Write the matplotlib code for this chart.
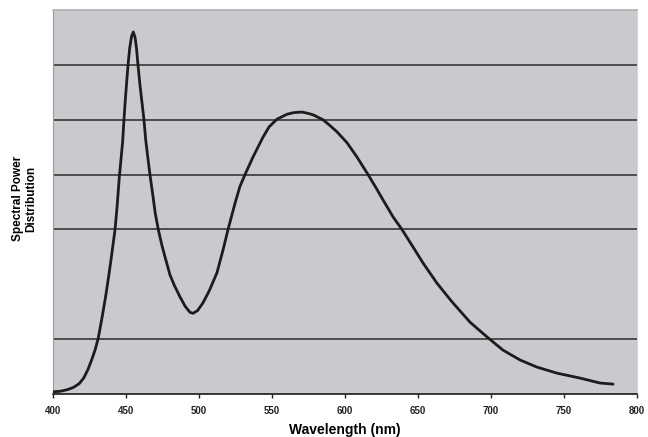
import matplotlib
matplotlib.use("Agg")
import matplotlib.pyplot as plt

# spectrum (wavelength in nm, relative power)
wavelength = [400, 405, 410, 414, 418, 421, 424, 427, 429, 431, 433.5, 436, 438,
              440, 442.5, 444, 445.4, 447.7, 448.6, 449.5, 450.5, 451.4, 452.5,
              453.8, 455, 456.2, 457.2, 458.2, 459.5, 461, 462.3, 463.5, 465,
              466.4, 468.5, 470, 472.1, 474.5, 476.7, 478.5, 480, 483.1, 487,
              490.5, 493.8, 495.9, 499, 502.7, 507, 512.3, 516.4, 519.9, 524.7,
              528, 531.5, 537, 543.8, 548, 553.4, 560.3, 565, 570.5, 574, 578.1,
              584.9, 589, 594.5, 601.4, 608.2, 615.8, 621, 626, 632.9, 639, 646.6,
              653.4, 663, 673.3, 685.6, 697.3, 708.2, 719.9, 731.5, 745.2, 761,
              774.7, 783.6]
power = [0.04, 0.05, 0.08, 0.12, 0.19, 0.29, 0.45, 0.66, 0.82, 1.02, 1.38, 1.77, 2.12,
         2.5, 3.0, 3.45, 3.95, 4.6, 5.0, 5.35, 5.7, 6.0, 6.3,
         6.52, 6.6, 6.5, 6.3, 6.0, 5.65, 5.3, 5.0, 4.63, 4.3,
         4.0, 3.6, 3.3, 3.0, 2.72, 2.5, 2.33, 2.18, 1.98, 1.77,
         1.6, 1.49, 1.47, 1.52, 1.66, 1.88, 2.21, 2.62, 3.0, 3.48,
         3.78, 4.0, 4.32, 4.68, 4.87, 5.01, 5.10, 5.13, 5.14, 5.12, 5.09,
         5.0, 4.91, 4.78, 4.58, 4.32, 4.0, 3.77, 3.54, 3.23, 3.0, 2.68,
         2.39, 2.02, 1.68, 1.31, 1.04, 0.80, 0.62, 0.49, 0.38, 0.29,
         0.20, 0.18]

x_ticks = [400, 450, 500, 550, 600, 650, 700, 750, 800]
grid_levels = [1, 3, 4, 5, 6]

plt.rcParams['font.family'] = ['Liberation Sans', 'DejaVu Sans']

fig = plt.figure(figsize=(6.48, 4.37), dpi=100)
ax = fig.add_axes([0.0818, 0.0984, 0.9012, 0.8787])
ax.set_facecolor('#c9cacd')

for lvl in grid_levels:
    ax.axhline(lvl, color='#2a2a2a', lw=1.1, zorder=1)

ax.plot(wavelength, power, color='#1c1c1c', lw=2, zorder=3,
        solid_joinstyle='round', solid_capstyle='round')

ax.set_xlim(400, 800)
ax.set_ylim(0, 7)
ax.set_xticks(x_ticks)
ax.set_xticklabels([str(t) for t in x_ticks], fontsize=7, fontweight='bold', color='#222222')
ax.set_yticks([])
ax.tick_params(axis='x', length=3, width=1, color='#222222', pad=6)

ax.spines['bottom'].set_color('#1a1a1a')
ax.spines['bottom'].set_linewidth(1.2)
ax.spines['left'].set_color('#9a9a9a')
ax.spines['top'].set_color('#b0b0b0')
ax.spines['top'].set_linewidth(1.2)
ax.spines['right'].set_color('#d8d8d8')

ax.set_xlabel('Wavelength (nm)', fontsize=10, fontweight='bold', labelpad=5)
fig.text(0.038, 0.545, 'Spectral Power\nDistribution', fontsize=8.5, fontweight='bold',
         rotation=90, ha='center', va='center', multialignment='center')

fig.savefig('out.png', dpi=100)
